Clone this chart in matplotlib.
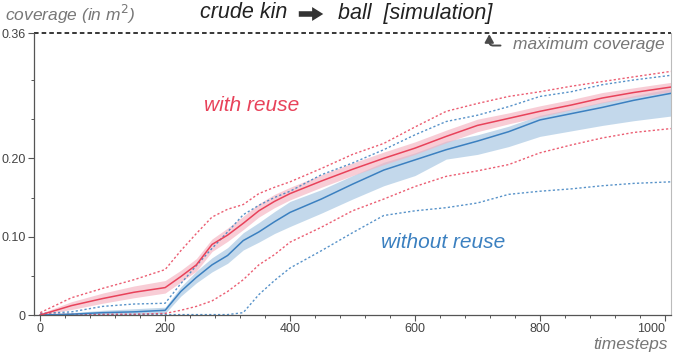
#!/usr/bin/env python3
"""
Coverage over time, crude kin -> ball simulation, with and without reuse.

Output:
  out.png
"""

import matplotlib

matplotlib.use("Agg")
import matplotlib.pyplot as plt
from matplotlib.patches import FancyArrowPatch
from matplotlib.ticker import FixedLocator


plt.rcParams["font.family"] = ["Liberation Sans", "DejaVu Sans"]

# timesteps shared by all series
steps = [0, 50, 100, 150, 200, 225, 250, 275, 300, 325, 350, 375, 400,
         450, 500, 550, 600, 650, 700, 750, 800, 850, 900, 950, 1010]

# with reuse
reuse_mean = [0.000, 0.012, 0.021, 0.029, 0.035, 0.049, 0.064, 0.090, 0.102, 0.117, 0.133, 0.145, 0.155,
              0.171, 0.186, 0.200, 0.213, 0.228, 0.242, 0.251, 0.260, 0.268, 0.277, 0.284, 0.291]
reuse_lo = [0.000, 0.007, 0.015, 0.022, 0.028, 0.042, 0.056, 0.081, 0.094, 0.109, 0.125, 0.137, 0.147,
            0.163, 0.178, 0.192, 0.205, 0.220, 0.234, 0.244, 0.253, 0.262, 0.271, 0.278, 0.285]
reuse_hi = [0.002, 0.017, 0.028, 0.037, 0.044, 0.057, 0.072, 0.097, 0.111, 0.126, 0.142, 0.154, 0.163,
            0.179, 0.194, 0.208, 0.221, 0.236, 0.250, 0.258, 0.267, 0.275, 0.284, 0.290, 0.297]
reuse_max = [0.003, 0.022, 0.034, 0.045, 0.058, 0.082, 0.104, 0.125, 0.135, 0.141, 0.155, 0.163, 0.170,
             0.187, 0.205, 0.219, 0.240, 0.260, 0.270, 0.279, 0.285, 0.292, 0.298, 0.304, 0.311]
reuse_min = [0.001, 0.001, 0.001, 0.001, 0.002, 0.006, 0.011, 0.018, 0.030, 0.045, 0.064, 0.077, 0.093,
             0.112, 0.133, 0.148, 0.164, 0.177, 0.184, 0.192, 0.207, 0.217, 0.226, 0.233, 0.238]

# without reuse
noreuse_mean = [0.000, 0.001, 0.003, 0.004, 0.006, 0.030, 0.048, 0.064, 0.076, 0.095, 0.106, 0.119, 0.131,
                0.148, 0.167, 0.185, 0.198, 0.211, 0.222, 0.234, 0.249, 0.257, 0.265, 0.274, 0.283]
noreuse_lo = [0.000, 0.000, 0.001, 0.001, 0.002, 0.024, 0.041, 0.055, 0.066, 0.083, 0.093, 0.104, 0.113,
              0.130, 0.148, 0.165, 0.178, 0.199, 0.205, 0.215, 0.228, 0.235, 0.242, 0.248, 0.254]
noreuse_hi = [0.001, 0.003, 0.006, 0.008, 0.010, 0.036, 0.056, 0.073, 0.086, 0.105, 0.118, 0.132, 0.145,
              0.160, 0.178, 0.195, 0.207, 0.222, 0.230, 0.241, 0.255, 0.263, 0.272, 0.280, 0.289]
noreuse_max = [0.002, 0.004, 0.011, 0.014, 0.015, 0.040, 0.063, 0.085, 0.106, 0.128, 0.140, 0.150, 0.158,
               0.179, 0.194, 0.211, 0.230, 0.247, 0.255, 0.266, 0.279, 0.285, 0.294, 0.300, 0.306]
noreuse_min = [0.0005, 0.0005, 0.0005, 0.0005, 0.0005, 0.0005, 0.0005, 0.0005, 0.0005, 0.003, 0.026, 0.044, 0.060,
               0.082, 0.105, 0.127, 0.133, 0.137, 0.143, 0.154, 0.158, 0.161, 0.165, 0.168, 0.170]

max_coverage = 0.36
x_ticks = [0, 200, 400, 600, 800, 1000]
x_minor = [40, 80, 120, 160, 240, 280, 320, 360, 440, 480, 520, 560,
           640, 680, 720, 760, 840, 880, 920, 960]
y_ticks = [0, 0.10, 0.20, 0.36]
y_labels = ["0", "0.10", "0.20", "0.36"]
y_minor = [0.05, 0.15, 0.25, 0.30]

RED = "#e8425a"
RED_BAND = "#f5b3c0"
BLUE = "#3b80c0"
BLUE_BAND = "#b9d2e8"
GRAY = "#777777"


def main():
    fig = plt.figure(figsize=(6.74, 3.56), dpi=100)
    ax = fig.add_axes([34 / 674, 1 - 315 / 356, 637 / 674, 282 / 356])

    dots = (0, (1.6, 1.6))
    ax.fill_between(steps, noreuse_lo, noreuse_hi, color=BLUE_BAND, lw=0, alpha=0.85)
    ax.fill_between(steps, reuse_lo, reuse_hi, color=RED_BAND, lw=0, alpha=0.65)
    ax.plot(steps, noreuse_max, color=BLUE, lw=1.0, ls=dots, alpha=0.85)
    ax.plot(steps, noreuse_min, color=BLUE, lw=1.0, ls=dots, alpha=0.85)
    ax.plot(steps, reuse_max, color=RED, lw=1.0, ls=dots, alpha=0.85)
    ax.plot(steps, reuse_min, color=RED, lw=1.0, ls=dots, alpha=0.85)
    ax.plot(steps, noreuse_mean, color=BLUE, lw=1.1)
    ax.plot(steps, reuse_mean, color=RED, lw=1.1)

    ax.axhline(max_coverage, color="black", lw=1.1, ls=(0, (3, 2)), clip_on=False)

    ax.set_xlim(-10, 1010)
    ax.set_ylim(0, max_coverage)

    ax.xaxis.set_major_locator(FixedLocator(x_ticks))
    ax.xaxis.set_minor_locator(FixedLocator(x_minor))
    ax.yaxis.set_major_locator(FixedLocator(y_ticks))
    ax.set_yticklabels(y_labels)
    ax.yaxis.set_minor_locator(FixedLocator(y_minor))
    ax.tick_params(which="major", length=4, width=0.8, color="#555555",
                   labelsize=9, labelcolor="#444444", pad=2)
    ax.tick_params(which="minor", length=2.5, width=0.7, color="#555555")
    # last x label hangs to the left of its tick so it stays inside the figure
    ax.xaxis.get_major_ticks()[-1].label1.set_horizontalalignment("right")

    ax.spines["top"].set_visible(False)
    ax.spines["right"].set_color("#bbbbbb")
    ax.spines["right"].set_linewidth(0.8)
    for side in ["left", "bottom"]:
        ax.spines[side].set_color("#555555")
        ax.spines[side].set_linewidth(0.9)

    ax.text(263, 0.268, "with reuse", color=RED, fontsize=15, style="italic", va="center")
    ax.text(546, 0.092, "without reuse", color=BLUE, fontsize=15, style="italic", va="center")
    ax.text(1000, 0.345, "maximum coverage", color=GRAY, fontsize=12.5, style="italic",
            ha="right", va="center")
    ax.annotate("", xy=(719, 0.3585), xytext=(737, 0.344),
                arrowprops=dict(arrowstyle="-|>,head_length=0.4,head_width=0.22",
                                connectionstyle="angle,angleA=0,angleB=90,rad=4",
                                mutation_scale=12, color="#4a4a4a", lw=1.4,
                                shrinkA=0, shrinkB=0))

    # axis labels and title in figure pixels
    fig.text(5 / 674, 1 - 14 / 356, "coverage (in m$^2$)", color=GRAY, fontsize=12.5,
             style="italic", va="center")
    fig.text(668 / 674, 1 - 345 / 356, "timesteps", color=GRAY, fontsize=12.5,
             style="italic", ha="right", va="center")
    fig.text(287 / 674, 1 - 13 / 356, "crude kin", color="#222222", fontsize=15.5,
             style="italic", ha="right", va="center")
    fig.text(338 / 674, 1 - 13 / 356, "ball  [simulation]", color="#222222", fontsize=15.5,
             style="italic", ha="left", va="center")
    fig.patches.append(FancyArrowPatch(
        (296 / 674, 1 - 14 / 356), (326 / 674, 1 - 14 / 356), transform=fig.transFigure,
        arrowstyle="simple,head_width=1.0,head_length=0.8,tail_width=0.4",
        mutation_scale=10, color="#333333", lw=0))

    fig.savefig("out.png", dpi=100)
    plt.close(fig)


if __name__ == "__main__":
    main()
